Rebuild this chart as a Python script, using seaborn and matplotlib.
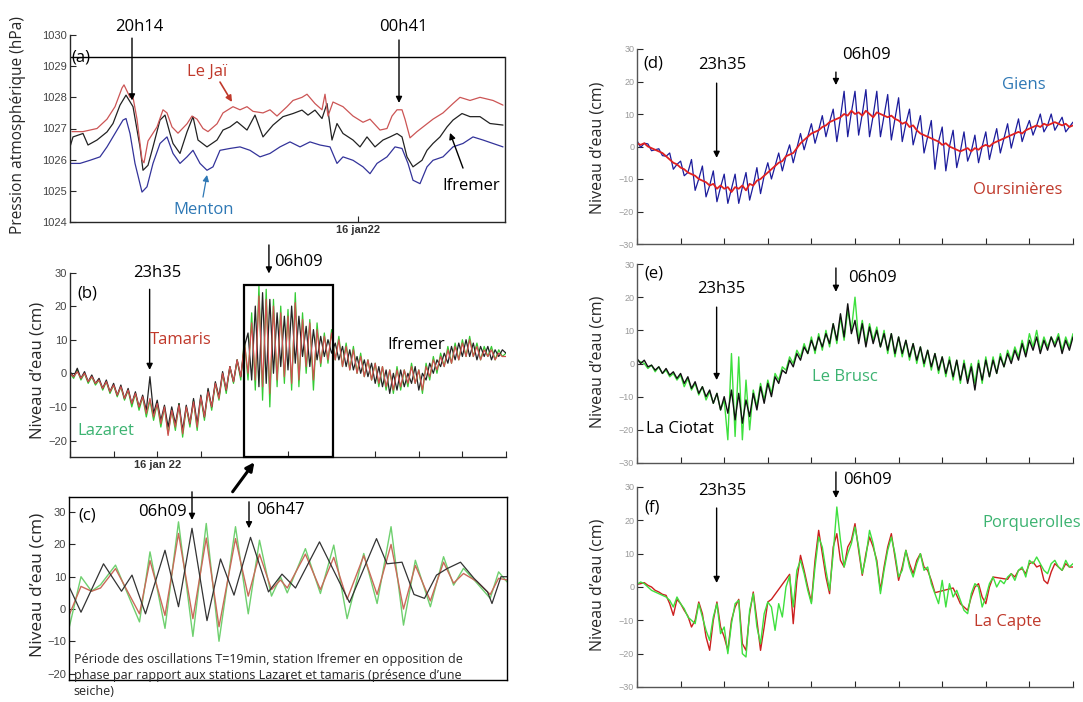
import numpy as np
import pandas as pd
import matplotlib
matplotlib.use("Agg")
import matplotlib.pyplot as plt
import seaborn as sns
from matplotlib.patches import Rectangle, FancyArrowPatch

# ---------------- DATA (time in minutes relative to 16 jan 22 00:00) ----------------
# (a) atmospheric pressure (hPa)
lejai_t = [-286, -275, -261, -251, -243, -236, -234, -231, -228, -225, -221, -216, -214, -210, -201,
           -195, -191, -186, -180, -171, -166, -161, -155, -150, -141, -135, -125, -118, -111, -105,
           -95, -88, -81, -71, -65, -56, -51, -43, -36, -33, -30, -25, -15, -5, 5, 12, 22, 29, 34,
           39, 44, 47, 52, 59, 65, 75, 85, 95, 102, 112, 122, 135, 145]
lejai_v = [1026.9, 1026.9, 1027.0, 1027.3, 1027.7, 1028.3, 1028.4, 1028.2, 1028.0, 1028.0, 1027.3,
           1026.0, 1025.9, 1026.6, 1027.05, 1027.6, 1027.5, 1027.05, 1026.85, 1027.15, 1027.4, 1027.3,
           1027.0, 1026.9, 1027.15, 1027.5, 1027.7, 1027.6, 1027.7, 1027.55, 1027.5, 1027.6, 1027.4,
           1027.7, 1027.9, 1028.0, 1028.1, 1027.8, 1027.6, 1028.1, 1027.4, 1027.85, 1027.7, 1027.4,
           1027.2, 1027.3, 1026.95, 1027.0, 1027.4, 1027.6, 1027.6, 1027.3, 1026.7, 1026.9, 1027.05,
           1027.3, 1027.5, 1027.8, 1028.0, 1027.9, 1028.0, 1027.9, 1027.75]
ifrA_t = [-288, -285, -275, -270, -261, -251, -245, -238, -232, -228, -225, -218, -215, -210, -205,
          -198, -193, -188, -185, -178, -171, -165, -160, -151, -141, -135, -128, -121, -111, -103,
          -95, -85, -75, -65, -56, -50, -43, -36, -31, -26, -21, -15, -5, 2, 9, 17, 25, 32, 39, 44,
          49, 55, 64, 69, 75, 82, 89, 95, 104, 112, 122, 132, 145]
ifrA_v = [1026.41, 1026.73, 1026.84, 1026.47, 1026.63, 1026.89, 1027.16, 1027.75, 1028.07, 1027.86,
          1027.70, 1026.41, 1025.66, 1025.82, 1026.41, 1027.27, 1027.43, 1026.84, 1026.52, 1026.20,
          1026.89, 1027.38, 1026.63, 1026.41, 1026.63, 1026.95, 1027.05, 1027.22, 1026.95, 1027.43,
          1026.73, 1027.11, 1027.38, 1027.48, 1027.59, 1027.43, 1027.59, 1027.32, 1027.80, 1026.63,
          1027.16, 1026.84, 1026.63, 1026.41, 1026.73, 1026.41, 1026.63, 1026.73, 1026.84, 1026.73,
          1026.09, 1025.77, 1025.98, 1026.30, 1026.52, 1026.73, 1027.05, 1027.27, 1027.48, 1027.38,
          1027.38, 1027.16, 1027.11]
menton_t = [-288, -278, -268, -258, -251, -243, -235, -232, -228, -223, -216, -211, -205, -198, -191,
            -185, -178, -171, -165, -158, -151, -145, -138, -128, -118, -108, -98, -88, -78, -68,
            -58, -48, -38, -28, -21, -15, -5, 5, 12, 19, 29, 37, 44, 50, 55, 62, 69, 75, 85, 95,
            105, 115, 125, 135, 145]
menton_v = [1025.88, 1025.88, 1025.98, 1026.09, 1026.41, 1026.84, 1027.27, 1027.32, 1026.84, 1025.88,
            1024.96, 1025.13, 1025.88, 1026.52, 1026.73, 1026.20, 1025.88, 1026.09, 1026.30, 1025.88,
            1025.66, 1025.77, 1026.30, 1026.36, 1026.41, 1026.30, 1026.09, 1026.20, 1026.41, 1026.57,
            1026.41, 1026.57, 1026.47, 1026.41, 1025.88, 1026.09, 1025.98, 1025.77, 1025.55, 1025.88,
            1026.09, 1026.41, 1026.36, 1025.88, 1025.34, 1025.23, 1025.77, 1025.98, 1026.09, 1026.41,
            1026.52, 1026.73, 1026.63, 1026.52, 1026.41]

# (b) water level (cm), samples every 12 min from 15 jan 19:12 to 16 jan 19:12
lazaret_b = [0, -1.5, 1, -2, 0, -3, -1, -3.5, -2, -5,
             -2.5, -6, -3.5, -7, -4, -8, -5, -10, -6, -11,
             -7, -13, -8, -14, -9, -16, -10, -18, -11, -17,
             -9, -19, -10, -16, -8, -17, -7, -14, -5, -11,
             -3, -8, 0, -6, 2, -3, 4, -2, 10, -2,
             18, -5, 26, -8, 25, -10, 22, -4, 20, -3,
             19, -5, 24, -4, 18, 0, 16, -5, 15, 2,
             12, 3, 13, 4, 11, 2, 9, 1, 8, 0,
             6, -1, 4, -2, 3, -4, 2, -5, 1, -6,
             2, -5, 1, -4, 3, -3, 1, -6, 3, -2,
             5, 0, 6, 2, 8, 3, 9, 4, 10, 5,
             11, 5, 9, 4, 8, 5, 8, 4, 7, 5,
             6]
ifremer_b = [0.5, -1, 1.5, -1.5, 0.5, -2.5, -0.5, -3, -1.5, -4.5,
             -2, -5.5, -3, -6.5, -3.5, -7.5, -4.5, -9, -5.5, -10,
             -6.5, -11, -1, -12, -8, -14, -9.5, -16, -10, -15,
             -9, -17, -9.5, -15, -7.5, -15, -6.5, -13, -4.5, -10,
             -2.5, -7, 0.5, -5, 2, -2.5, 4, -1, 8, 12,
             -2, 20, -4, 24, -3, 22, 0, 18, 2, 17,
             1, 20, 3, 17, 5, 14, 2, 13, 4, 11,
             5, 10, 6, 9, 4, 8, 2, 7, 1, 5,
             0, 4, -1, 3, -3, 2, -4, 1, -6, 0,
             -5, 1, -4, 0, -3, 2, -5, 0, -2, 3,
             0, 4, 2, 6, 3, 8, 4, 9, 5, 10,
             5, 9, 4, 8, 5, 8, 4, 7, 5, 7,
             6]
tamaris_b = [0, -1, 0.5, -1.5, 0, -2.5, -1, -3, -2, -4.5,
             -2.5, -5.5, -3.5, -6.5, -4, -7.5, -5, -9, -6, -10,
             -7, -12, -7.5, -13, -9, -15, -10, -18.5, -11, -16,
             -9.5, -18, -10, -15, -8.5, -16, -7, -13, -5.5, -10,
             -3, -7.5, 0, -5, 2, -2.5, 4, -1, 9, 0,
             15, -2, 23, -4, 22, -6, 20, -2, 18, -1,
             17, -3, 21, -2, 16, 2, 15, -2, 13, 3,
             11, 4, 12, 4, 10, 2, 8, 1, 7, 0,
             5, -1, 4, -2, 3, -3, 2, -4, 1, -5,
             1, -4, 1, -3, 2, -3, 1, -5, 2, -1,
             4, 1, 5, 2, 7, 3, 8, 4, 9, 5,
             10, 5, 8, 4, 7, 5, 7, 4, 6, 5,
             5]

# (c) zoom 04h47 - 09h39 (minutes after midnight), water level (cm)
ifrC_t = [287, 295, 310, 322, 329, 338, 351, 360, 369, 379, 388, 397, 408, 420, 429, 438, 454, 474,
          492, 499, 509, 517, 524, 532, 539, 548, 557, 566, 569, 575, 579]
ifrC_v = [7.0, -1.0, 14.0, 5.5, 10.5, -1.5, 18.2, 0.7, 25.0, -3.6, 15.5, 4.3, 22.2, 5.3, 10.8, 6.5,
          20.8, 2.0, 21.8, 14.0, 14.5, 4.5, 3.3, 10.5, 12.5, 14.5, 9.5, 5.3, 1.7, 10.0, 10.0]
lazC_t = [287, 295, 302, 308, 318, 334, 341, 351, 360, 369.6, 378.5, 387, 398, 406.5, 414, 422, 428,
          432.5, 444.6, 454.6, 463.5, 472.4, 483.5, 492.4, 501.7, 510, 517.9, 527.9, 536.7, 543.4,
          550, 559, 567.8, 573.4, 579]
lazC_v = [-6, 10, 5.5, 7.5, 13.6, -4, 17.7, -6, 27, -8.5, 26.5, -10, 25.5, -1.5, 21.3, 4, 10, 5,
          18.7, 4.8, 19.8, -3, 17.2, 1.7, 25.5, -5, 15.1, 0.7, 16.2, 7.4, 12.6, 8, 3.3, 11.5, 8.4]
tamC_v = [-2, 7, 5.5, 6.5, 12.5, -1.5, 15, -2, 23.4, -3, 22, -5.5, 21.8, 4, 17, 6, 9, 6.5, 17, 6,
          16, 3, 16.5, 4.5, 20, 0, 13.5, 2.5, 14.5, 8, 11, 8.5, 4.5, 9.5, 9]

# (d)
oursinieres = [1, 0.5, 1, 0, -0.5, -1, -1.5, -2, -3, -4,
               -5, -5.5, -6.5, -7, -8, -8.5, -9, -10, -10.5, -11,
               -12, -11.5, -13, -12, -13, -12.5, -14, -12.5, -13, -12,
               -13.5, -11.5, -12, -10.5, -10, -9, -8, -7, -6, -5,
               -4.5, -3, -2.5, -2, -0.5, 1, 2, 3, 4, 4.5,
               5, 6, 6.5, 7.5, 8, 8.5, 9, 10, 9.5, 11,
               10, 10.5, 9.5, 11, 10, 9, 10.5, 10, 9.5, 9,
               9.5, 8.5, 8, 7, 7.5, 6, 6.5, 5, 4, 3.5,
               3, 2.5, 2, 1.5, 0.5, 1, 0, -0.5, -1, -1.5,
               -1, -0.5, -1.5, -0.5, -1, 0, 0.5, 0, 1, 1.5,
               2, 2.5, 3, 3.5, 4, 4.5, 4, 5, 5.5, 6,
               6.5, 6, 7, 6.5, 7, 7.5, 7, 6.5, 7, 6,
               6.5]
giens = [1.8, -0.3, 1, 0.8, -1.3, -1, -0.7, -2.8, -3, -2,
         -7, -5.5, -4.5, -9, -8, -4, -13.5, -10, -6, -15.5,
         -12, -7.5, -17, -12.5, -8.5, -17.5, -13, -8.5, -17.5, -12.5,
         -8, -16.5, -12, -6.5, -14.5, -9, -5, -10, -6, -2,
         -7.5, -3, 0.5, -5, -0.5, 4, -1, 3, 7, 1,
         5, 9.5, 3, 7.5, 11.5, 1.5, 9, 17, 3, 10.5,
         17, 3.5, 10, 17.5, 3, 9.5, 17, 3, 9.5, 16,
         2, 8.5, 15, 1.5, 7, 11.5, 0.5, 5, 9.5, -2,
         3, 8, -7, 1.5, 6, -7.5, 0, 5, -6.5, -1.5,
         4.5, -4.5, -1.5, 3.5, -5, 0, 4.5, -4, 1, 5.5,
         -2, 2.5, 7, -0.5, 4, 8.5, 1.5, 5, 8, 3.5,
         6.5, 10, 4.5, 6.5, 10, 5, 7, 9, 4.5, 6,
         7.5]

# (e)
la_ciotat = [1.5, 0, 1, -1, -0.5, -2, -1, -3, -1.5, -3.5,
             -2.5, -4.5, -3, -6, -4, -7.5, -5.5, -9, -7, -10,
             -8, -12, -9, -14, -10, -15, -8, -17, -9, -18,
             -11, -16, -9, -14, -7, -12, -6, -10, -4, -6,
             -2, -3, 1, -1, 3, 1, 5, 3, 7, 4,
             8, 5, 9, 6, 12, 7, 15, 8, 18, 9,
             13, 6, 12, 5, 11, 6, 10, 5, 9, 4,
             9, 3, 8, 3, 7, 2, 6, 1, 5, 0,
             4, -1, 3, -2, 2, -3, 1, -4, 1, -5,
             0, -6, -1, -8, 0, -5, 1, -4, 1, -3,
             2, -1, 3, 0, 4, 1, 6, 2, 7, 4,
             8, 3, 7, 4, 8, 5, 8, 3, 7, 4,
             8]
le_brusc = [1, 0.5, 0, -1.5, -0.5, -2.5, -1, -3, -2, -4,
            -3, -5, -3.5, -7, -4.5, -8, -6, -9.5, -7, -11,
            -8.5, -12, -9, -14, -11, -23, 3, -22, 2, -23,
            -5, -20, -8, -13, -6, -11, -5, -9, -3, -5,
            -1, -2, 2, 0, 4, 2, 6, 3, 8, 3,
            9, 4, 10, 5, 12, 6, 14, 7, 16, 10,
            20, 7, 13, 6, 12, 7, 11, 5, 10, 3,
            9, 2, 8, 2, 7, 1, 6, 0, 5, -1,
            4, -2, 3, -3, 2, -4, 2, -5, 1, -6,
            1, -5, 0, -6, 1, -6, 2, -4, 2, -3,
            3, -1, 4, 1, 5, 2, 7, 3, 9, 5,
            10, 4, 8, 5, 8, 6, 9, 4, 8, 5,
            9]

# (f)  (nan = no La Capte sample)
nan = np.nan
la_capte = [0.8, 1, 1.3, 0.5, 0, -1, -1.5, -2.2, -2.5, -5,
            -8.5, -3.7, -5, -7, -8.7, -12, -10, -4.5, -8, -15,
            -19, -10, -4.5, -12, -15, -19, -10, -6, -3.7, -17,
            -19, -8, -1.5, -10, -19, -12, -4.5, -3.7, nan, nan,
            nan, nan, 3.8, -11, 2, 9.5, 5, 0, -4.5, 8,
            17, 10, 3, -2, 12, 16, 8, 6, 12, 14,
            19, 11, 3.5, 10, 15, 12, 8, -1, 6, 12,
            16, 9, 2, 6, 11, 7, 4, 8, 10, 6,
            5, 2, -1.7, nan, nan, nan, nan, -0.3, -2.5, -5,
            -6, -7, -3, 0, 1, -3, -5, 0, 3, nan,
            nan, nan, 2.3, 4, 3, 5, 5.5, 4, 7, 7.5,
            6, 6.5, 2, 1, 4.5, 7, 6, 5, 7, 6,
            6]
porquerolles = [0.8, 1.5, 1, 0, -1, -1.5, -2, -2.5, -3, -4,
                -6, -3, -5, -6.5, -9, -10, -11, -5, -9, -13,
                -16, -9, -5, -14, -12, -20, -11, -5, -4, -20,
                -21, -7, -2, -12, -17, -8, -4.5, -6, -13, -5,
                -9, 0, 3.3, -6, 5, 8, 4, -1, -5, 6,
                15, 12, 5, -1, 10, 24, 14, 6, 10, 13,
                18, 12, 4, 9, 17, 13, 7, -2, 5, 11,
                15, 10, 3, 5, 11, 6, 3, 7, 10, 5,
                6, 1, -2, -5, 2, -6, 1, -3, -1, -4,
                -7, -8, -2, 1, 0, -6, -3, 1, 3, 0,
                2, 1, 3, 4, 2, 5, 6, 3, 8, 7,
                9, 7, 5, 4, 7, 8, 6, 5, 8, 6,
                7]

# event times (minutes from 16 jan 00:00)
t_2014, t_0041, t_2335, t_0609, t_0647 = -226, 41, -25, 369, 407
T0, T1 = -288, 1152
ticks_day = list(range(-288, 1153, 144))

# ---------------- STYLE ----------------
sns.set_theme(style="white")
plt.rcParams["font.family"] = ["Open Sans", "DejaVu Sans"]
plt.rcParams["axes.linewidth"] = 1.0

W, H = 1083, 702
fig = plt.figure(figsize=(W / 100, H / 100), dpi=100)


def box(l, t, r, b):
    return [l / W, 1 - b / H, (r - l) / W, (b - t) / H]


def line(ax, t, v, color, lw=0.9, z=2):
    df = pd.DataFrame({"t": np.asarray(t, float), "v": np.asarray(v, float)}).dropna()
    sns.lineplot(data=df, x="t", y="v", ax=ax, color=color, lw=lw, estimator=None,
                 sort=False, legend=False, zorder=z)


def grid(vals):
    return np.linspace(T0, T1, len(vals))


def style_ticks(ax, size=8, color="#444444"):
    ax.tick_params(direction="in", length=4, width=0.8, labelsize=size, labelcolor=color,
                   pad=2, left=True, bottom=True)
    for lab in ax.get_xticklabels() + ax.get_yticklabels():
        lab.set_fontfamily(["Liberation Sans", "DejaVu Sans"])


def arrow(ax, x0, y0, x1, y1, color="black", lw=1.0, ms=9):
    ax.annotate("", xy=(x1, y1), xytext=(x0, y0), annotation_clip=False,
                arrowprops=dict(arrowstyle="-|>", color=color, lw=lw, mutation_scale=ms,
                                shrinkA=0, shrinkB=0))


def label(ax, x, y, s, color="black", size=12, ha="center", va="center"):
    ax.text(x, y, s, color=color, fontsize=size, ha=ha, va=va, clip_on=False, zorder=5)


RED = "#c0392b"
GREEN_T = "#3cb371"
BLUE_T = "#2e78b5"

# ---------------- (a) ----------------
ax = fig.add_axes(box(70, 35, 505, 222))
line(ax, menton_t, menton_v, "#33339a", 0.9)
line(ax, ifrA_t, ifrA_v, "#222222", 0.9)
line(ax, lejai_t, lejai_v, "#cc5555", 0.9)
ax.set_xlim(-288, 147)
ax.set_ylim(1024, 1030)
ax.set_yticks([1024, 1025, 1026, 1027, 1028, 1029, 1030])
ax.set_xticks([0])
ax.set_xticklabels(["16 jan22"])
ax.set_xlabel("")
ax.set_ylabel("")
sns.despine(ax=ax, top=True, right=False)
ax.spines["right"].set_bounds(1024, 1029.3)
ax.axhline(1029.3, color="black", lw=1.0)
style_ticks(ax)
for lab in ax.get_xticklabels():
    lab.set_fontweight("bold")
    lab.set_color("#333333")
label(ax, -287, 1029.28, "(a)", ha="left")
label(ax, -219, 1030.26, "20h14")
arrow(ax, t_2014, 1029.9, t_2014, 1027.9)
label(ax, 45, 1030.26, "00h41")
arrow(ax, t_0041, 1029.84, t_0041, 1027.82)
label(ax, -151, 1028.83, "Le Jaï", color=RED)
arrow(ax, -138, 1028.49, -126, 1027.85, color=RED, lw=1.2)
label(ax, -154, 1024.40, "Menton", color=BLUE_T)
arrow(ax, -155, 1024.80, -151, 1025.51, color=BLUE_T, lw=0.9)
label(ax, 113, 1025.14, "Ifremer")
arrow(ax, 105, 1025.73, 92, 1026.86, lw=1.0)
fig.text(18 / W, 1 - 125 / H, "Pression atmosphérique (hPa)", rotation=90, ha="center",
         va="center", fontsize=11.2)

# ---------------- (b) ----------------
ax = fig.add_axes(box(70, 272.5, 506, 457.3))
line(ax, grid(lazaret_b), lazaret_b, "#33cc33", 0.9)
line(ax, grid(ifremer_b), ifremer_b, "#222222", 0.9)
line(ax, grid(tamaris_b), tamaris_b, "#d05050", 0.9)
ax.set_xlim(T0, T1)
ax.set_ylim(-25, 30)
ax.set_yticks([-20, -10, 0, 10, 20, 30])
ax.set_xticks(ticks_day)
ax.set_xticklabels(["16 jan 22" if t == 0 else "" for t in ticks_day])
ax.set_xlabel("")
ax.set_ylabel("")
sns.despine(ax=ax)
style_ticks(ax)
for lab in ax.get_xticklabels():
    lab.set_fontweight("bold")
    lab.set_color("#333333")
ax.add_patch(Rectangle((ifrC_t[0], -25), ifrC_t[-1] - ifrC_t[0], 51.3, fill=False,
                       ec="black", lw=1.6, zorder=4, clip_on=False))
label(ax, -262, 23.75, "(b)", ha="left")
label(ax, 1, 30.0, "23h35")
arrow(ax, t_2335, 25.0, t_2335, 1.0)
label(ax, 78, 9.8, "Tamaris", color=RED)
arrow(ax, t_0609, 38.2, t_0609, 29.7)
label(ax, 386, 33.0, "06h09", ha="left")
label(ax, 855, 8.4, "Ifremer")
label(ax, -171, -17.3, "Lazaret", color=GREEN_T)
fig.text(38 / W, 1 - 370 / H, "Niveau d’eau (cm)", rotation=90, ha="center", va="center",
         fontsize=12)

# connecting arrow (b) -> (c)
fig.patches.append(FancyArrowPatch((231 / W, 1 - 494 / H), (256 / W, 1 - 460 / H),
                                   transform=fig.transFigure, arrowstyle="-|>",
                                   mutation_scale=12, lw=2.2, color="black"))

# ---------------- (c) ----------------
ax = fig.add_axes(box(69, 497, 507, 680))
line(ax, lazC_t, lazC_v, "#6fd06f", 1.0)
line(ax, lazC_t, tamC_v, "#c96a5a", 1.0)
line(ax, ifrC_t, ifrC_v, "#333333", 0.9)
ax.set_xlim(ifrC_t[0], ifrC_t[-1])
ax.set_ylim(-22, 34.7)
ax.set_yticks([-20, -10, 0, 10, 20, 30])
ax.set_xticks([432])
ax.set_xticklabels([""])
ax.set_xlabel("")
ax.set_ylabel("")
for s in ax.spines.values():
    s.set_visible(True)
    s.set_color("black")
style_ticks(ax)
label(ax, 293, 29.1, "(c)", ha="left")
label(ax, 349, 29.9, "06h09")
arrow(ax, t_0609, 36.3, t_0609, 27.6)
label(ax, 412, 30.7, "06h47", ha="left")
arrow(ax, t_0647, 33.2, t_0647, 25.0)
ax.text(290, -13.7, "Période des oscillations T=19min, station Ifremer en opposition de\n"
        "phase par rapport aux stations Lazaret et tamaris (présence d’une\nseiche)",
        fontsize=9, ha="left", va="top", linespacing=1.3, clip_on=False, zorder=5)
fig.text(37 / W, 1 - 585 / H, "Niveau d’eau (cm)", rotation=90, ha="center", va="center",
         fontsize=12.5)


# ---------------- right column helper ----------------
def right_axes(top, bottom):
    a = fig.add_axes(box(637, top, 1073, bottom))
    return a


def finish_right(a):
    a.set_xlim(T0, T1)
    a.set_ylim(-30, 30)
    a.set_yticks([-30, -20, -10, 0, 10, 20, 30])
    a.set_xticks(ticks_day)
    a.set_xticklabels([""] * len(ticks_day))
    a.set_xlabel("")
    a.set_ylabel("")
    sns.despine(ax=a)
    for s in ("left", "bottom"):
        a.spines[s].set_color("#555555")
    style_ticks(a, size=6.5, color="#9a9a9a")


# (d)
ax = right_axes(49, 244)
line(ax, grid(giens), giens, "#1c1c9c", 0.9)
line(ax, grid(oursinieres), oursinieres, "#e02020", 1.3)
finish_right(ax)
label(ax, -268, 25.5, "(d)", ha="left")
label(ax, -7, 25.1, "23h35")
arrow(ax, t_2335, 19.5, t_2335, -3.5)
label(ax, 389, 28.3, "06h09", ha="left")
arrow(ax, t_0609, 22.9, t_0609, 18.9)
label(ax, 990, 18.9, "Giens", color=BLUE_T)
label(ax, 970, -13.4, "Oursinières", color=RED)
fig.text(598 / W, 1 - 148 / H, "Niveau d’eau (cm)", rotation=90, ha="center", va="center",
         fontsize=11.5)

# (e)
ax = right_axes(264, 463)
line(ax, grid(le_brusc), le_brusc, "#3de03d", 1.0)
line(ax, grid(la_ciotat), la_ciotat, "#111111", 1.0)
finish_right(ax)
label(ax, -262, 27.1, "(e)", ha="left")
label(ax, -10, 22.5, "23h35")
arrow(ax, t_2335, 17.0, t_2335, -5.0)
label(ax, 409, 25.8, "06h09", ha="left")
arrow(ax, t_0609, 28.8, t_0609, 21.6)
label(ax, 399, -4.1, "Le Brusc", color=GREEN_T)
label(ax, -146, -19.7, "La Ciotat")
fig.text(598 / W, 1 - 362 / H, "Niveau d’eau (cm)", rotation=90, ha="center", va="center",
         fontsize=11.5)

# (f)
ax = right_axes(487, 687)
line(ax, grid(la_capte), la_capte, "#cc1f1f", 1.0)
line(ax, grid(porquerolles), porquerolles, "#3ee03e", 1.0)
finish_right(ax)
label(ax, -262, 23.7, "(f)", ha="left")
label(ax, -7, 28.8, "23h35")
arrow(ax, t_2335, 23.7, t_2335, 1.2)
label(ax, 392, 32.1, "06h09", ha="left")
arrow(ax, t_0609, 34.5, t_0609, 26.7)
label(ax, 1017, 19.2, "Porquerolles", color=GREEN_T)
label(ax, 937, -10.5, "La Capte", color=RED)
fig.text(598 / W, 1 - 585 / H, "Niveau d’eau (cm)", rotation=90, ha="center", va="center",
         fontsize=11.5)

fig.savefig("out.png", dpi=100, facecolor="white")
